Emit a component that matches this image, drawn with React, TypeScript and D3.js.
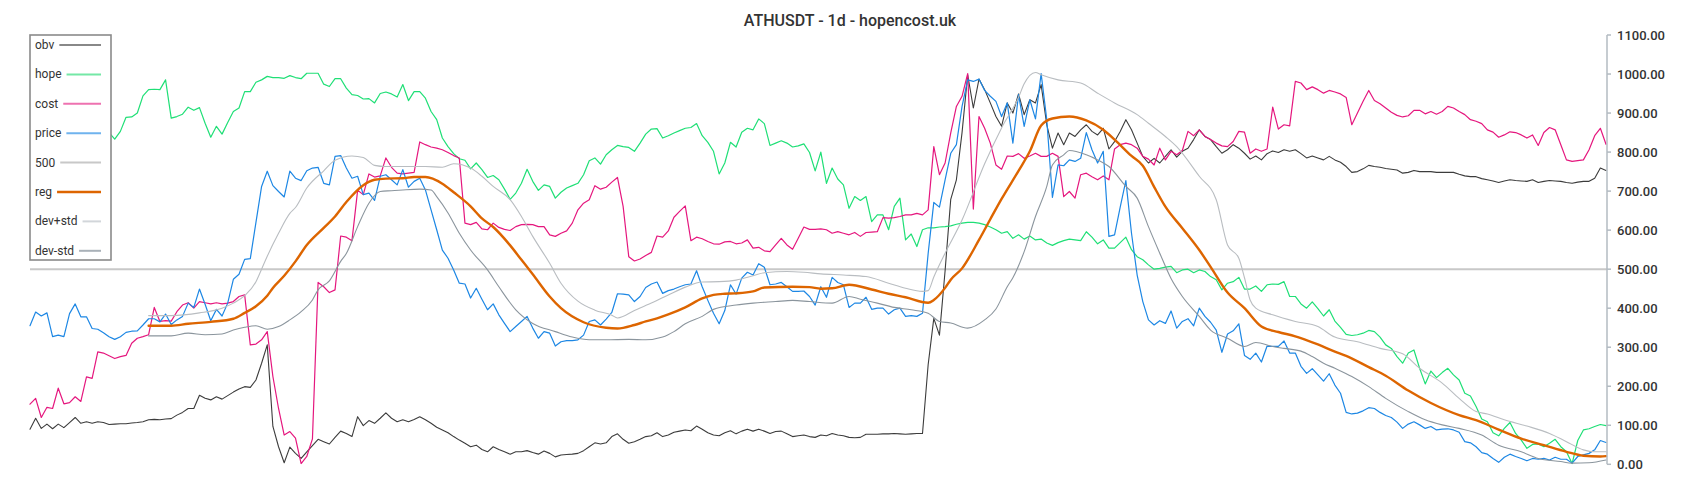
import React, { useEffect, useRef } from "react";
import * as d3 from "d3";

// ---------- data (one value per day, index 0..279) ----------
const price = [
  355, 390, 380, 388, 327, 331, 327, 386, 411, 378,
  378, 348, 346, 337, 327, 320, 327, 338, 341, 342,
  357, 373, 373, 365, 385, 358, 370, 379, 413, 402,
  449, 410, 368, 397, 380, 413, 474, 487, 525, 527,
  620, 712, 751, 714, 699, 685, 751, 733, 727, 752,
  759, 761, 720, 716, 789, 791, 759, 733, 738, 691,
  695, 676, 738, 742, 729, 716, 755, 710, 725, 733,
  703, 652, 601, 549, 528, 498, 464, 462, 426, 451,
  423, 396, 411, 383, 361, 340, 353, 366, 379, 349,
  323, 340, 336, 303, 314, 317, 317, 319, 331, 366,
  370, 357, 372, 389, 437, 436, 434, 417, 430, 453,
  462, 467, 438, 445, 449, 455, 460, 462, 496, 455,
  420, 387, 360, 394, 460, 436, 477, 492, 485, 514,
  505, 460, 462, 466, 455, 443, 443, 444, 430, 408,
  455, 428, 479, 466, 460, 402, 413, 413, 428, 397,
  400, 400, 385, 396, 400, 379, 381, 379, 387, 540,
  671, 659, 729, 797, 819, 917, 985, 981, 987, 958,
  943, 930, 891, 926, 823, 947, 866, 934, 885, 1001,
  883, 684, 767, 765, 780, 776, 784, 850, 806, 772,
  802, 584, 588, 659, 727, 592, 485, 417, 370, 357,
  368, 361, 393, 349, 366, 373, 355, 400, 379, 364,
  344, 287, 334, 342, 360, 279, 269, 285, 262, 303,
  302, 302, 316, 285, 285, 251, 233, 245, 229, 213,
  232, 203, 182, 133, 129, 131, 137, 145, 143, 133,
  125, 120, 108, 92, 103, 109, 101, 92, 97, 88,
  90, 91, 88, 82, 58, 55, 45, 30, 26, 15,
  5, 18, 26, 20, 15, 9, 15, 13, 15, 11,
  18, 13, 13, 3, 20, 24, 28, 37, 61, 56,
];

const obv = [
  90, 118, 92, 103, 91, 103, 94, 107, 120, 105,
  109, 105, 109, 107, 102, 103, 104, 104, 106, 107,
  109, 114, 115, 114, 116, 117, 126, 133, 143, 143,
  177, 169, 165, 173, 167, 176, 185, 193, 199, 197,
  216, 259, 306, 97, 45, 4, 44, 28, 15, 32,
  48, 64, 58, 52, 69, 85, 79, 71, 122, 99,
  112, 105, 118, 132, 118, 109, 114, 109, 115, 122,
  114, 105, 95, 88, 81, 71, 62, 54, 45, 49,
  38, 32, 45, 38, 32, 26, 32, 32, 35, 30,
  26, 34, 28, 19, 24, 25, 26, 28, 35, 45,
  55, 52, 55, 71, 78, 64, 54, 58, 64, 71,
  73, 81, 71, 75, 82, 85, 88, 86, 98, 90,
  81, 75, 73, 81, 86, 78, 85, 90, 85, 90,
  85, 79, 84, 85, 78, 71, 73, 75, 71, 69,
  75, 73, 79, 75, 73, 69, 68, 69, 77, 77,
  77, 78, 78, 79, 78, 77, 78, 79, 79, 255,
  374, 331, 496, 679, 729, 850, 998, 913, 987, 960,
  926, 891, 866, 926, 900, 949, 896, 934, 926, 973,
  870, 810, 849, 819, 849, 840, 857, 870, 853, 844,
  861, 808, 827, 853, 883, 857, 823, 789, 772, 784,
  772, 789, 806, 787, 802, 810, 832, 857, 840, 832,
  814, 797, 806, 819, 810, 797, 782, 790, 780, 796,
  803, 799, 806, 802, 806, 796, 785, 790, 785, 780,
  789, 780, 774, 763, 748, 750, 757, 766, 763, 761,
  758, 756, 754, 746, 748, 753, 750, 750, 750, 748,
  748, 748, 748, 743, 739, 737, 737, 732, 729, 726,
  722, 726, 729, 727, 726, 725, 729, 722, 725, 727,
  726, 725, 722, 720, 723, 725, 725, 733, 759, 753,
];

// first 14 days are hidden behind the legend box
const hope: (number | null)[] = [
  null, null, null, null, null, null, null, null, null, null,
  null, null, null, null, 850, 833, 853, 889, 890, 900,
  944, 960, 961, 960, 985, 887, 891, 897, 915, 907,
  914, 874, 838, 866, 846, 876, 904, 913, 955, 955,
  979, 985, 994, 991, 991, 989, 996, 991, 988, 1002,
  1002, 1002, 974, 968, 988, 988, 964, 947, 945, 936,
  937, 926, 950, 954, 949, 941, 973, 932, 955, 955,
  938, 904, 883, 836, 814, 796, 783, 779, 757, 772,
  755, 735, 740, 729, 705, 679, 695, 720, 756, 725,
  702, 716, 712, 682, 697, 708, 714, 720, 742, 778,
  785, 769, 793, 806, 817, 814, 812, 802, 823, 846,
  859, 860, 836, 842, 849, 855, 861, 863, 873, 842,
  825, 802, 744, 772, 825, 813, 851, 861, 857, 885,
  873, 817, 823, 829, 823, 813, 816, 821, 799, 752,
  800, 720, 759, 731, 716, 656, 686, 676, 686, 622,
  639, 639, 601, 661, 682, 575, 590, 558, 601, 606,
  606, 608, 609, 611, 615, 618, 620, 620, 618, 614,
  608, 601, 592, 596, 579, 588, 577, 585, 575, 577,
  567, 561, 568, 573, 577, 575, 573, 596, 582, 565,
  575, 554, 554, 568, 582, 550, 532, 524, 511, 500,
  502, 505, 507, 491, 498, 500, 491, 498, 494, 481,
  473, 447, 464, 468, 479, 449, 449, 457, 443, 460,
  462, 461, 468, 430, 430, 411, 400, 416, 399, 380,
  396, 367, 351, 333, 330, 332, 336, 343, 340, 326,
  306, 297, 276, 259, 285, 293, 246, 206, 239, 222,
  235, 246, 229, 216, 182, 175, 148, 116, 109, 81,
  73, 92, 107, 79, 62, 41, 51, 52, 45, 54,
  64, 45, 32, 2, 61, 88, 91, 97, 102, 99,
];

const cost = [
  154, 169, 120, 146, 143, 195, 155, 158, 173, 161,
  224, 220, 288, 285, 278, 271, 276, 279, 310, 323,
  327, 332, 402, 366, 368, 367, 391, 408, 414, 400,
  417, 414, 411, 414, 411, 413, 417, 430, 434, 306,
  308, 319, 340, 225, 143, 75, 84, 67, 2, 20,
  65, 466, 455, 440, 447, 585, 582, 573, 702, 691,
  744, 736, 739, 785, 761, 746, 744, 746, 748, 826,
  819, 813, 810, 806, 799, 791, 785, 618, 614, 620,
  603, 601, 618, 607, 602, 599, 609, 614, 615, 614,
  609, 609, 588, 584, 592, 598, 618, 652, 669, 678,
  714, 705, 710, 723, 735, 661, 532, 521, 526, 535,
  543, 585, 582, 598, 633, 648, 662, 573, 582, 578,
  571, 565, 564, 570, 571, 565, 567, 575, 554, 556,
  547, 545, 562, 579, 562, 551, 579, 608, 602, 602,
  603, 601, 592, 596, 592, 588, 594, 584, 594, 595,
  596, 632, 631, 632, 635, 639, 639, 643, 639, 652,
  814, 742, 772, 849, 917, 943, 1001, 654, 891, 861,
  823, 767, 756, 790, 789, 796, 784, 790, 797, 789,
  789, 797, 789, 686, 699, 682, 742, 746, 737, 729,
  739, 729, 808, 819, 823, 819, 810, 789, 782, 767,
  810, 780, 802, 793, 804, 853, 842, 857, 840, 832,
  823, 816, 814, 827, 853, 851, 797, 808, 802, 808,
  915, 859, 870, 867, 981, 977, 960, 967, 960, 951,
  958, 954, 949, 940, 870, 900, 930, 958, 932, 924,
  913, 902, 894, 890, 893, 907, 907, 898, 904, 897,
  904, 917, 913, 904, 896, 883, 879, 873, 857, 851,
  838, 844, 852, 850, 844, 836, 844, 817, 850, 863,
  857, 819, 780, 776, 778, 780, 806, 842, 861, 820,
];

// smooth series: [day index, value]
const reg: [number, number][] = [
  [21, 355], [25, 355], [28, 360], [32, 365], [36, 373], [38, 388], [40, 405], [42, 432],
  [43, 452], [45, 483], [47, 520], [49, 562], [52, 606], [54, 635], [56, 672], [59, 715],
  [61, 729], [63, 732], [66, 733], [68, 736], [70, 736], [73, 719], [75, 697], [78, 661],
  [80, 630], [82, 608], [85, 561], [87, 524], [89, 487], [92, 430], [94, 400], [98, 364],
  [102, 350], [104, 348], [107, 357], [109, 366], [111, 374], [113, 384], [116, 402],
  [119, 425], [121, 434], [123, 437], [125, 438], [128, 443], [130, 453], [135, 455],
  [138, 454], [140, 450], [142, 451], [145, 460], [149, 448], [152, 437], [155, 428],
  [159, 414], [160, 421], [162, 452], [163, 473], [165, 502], [168, 575], [170, 628],
  [172, 680], [175, 752], [177, 802], [179, 868], [181, 886], [184, 891], [187, 881],
  [190, 857], [192, 832], [195, 790], [197, 765], [199, 711], [201, 660], [204, 605],
  [207, 549], [209, 506], [212, 440], [215, 400], [218, 353], [221, 339], [224, 328],
  [228, 307], [231, 289], [233, 278], [237, 249], [240, 227], [244, 189], [248, 157],
  [253, 126], [256, 113], [260, 89], [264, 66], [268, 49], [272, 32], [275, 22], [278, 20],
  [279, 21],
];

const devPlus: [number, number][] = [
  [21, 381], [25, 381], [30, 388], [34, 400], [36, 413], [38, 432], [40, 468], [41, 500],
  [42, 533], [44, 592], [46, 643], [47, 658], [49, 708], [52, 752], [54, 779], [57, 790],
  [59, 786], [61, 766], [63, 763], [66, 763], [68, 763], [70, 763], [73, 761], [75, 770],
  [78, 759], [80, 738], [82, 712], [85, 678], [87, 635], [89, 584], [92, 515], [94, 464],
  [97, 418], [100, 395], [103, 382], [104, 375], [107, 394], [110, 413], [113, 434],
  [116, 454], [119, 467], [122, 468], [125, 472], [128, 483], [130, 491], [134, 494],
  [137, 492], [140, 488], [144, 485], [148, 481], [152, 464], [155, 451], [158, 443],
  [159, 445], [160, 480], [162, 541], [165, 626], [169, 770], [172, 862], [175, 940],
  [176, 975], [178, 1004], [179, 998], [182, 985], [186, 977], [189, 951], [192, 926],
  [196, 896], [198, 874], [201, 840], [203, 814], [207, 738], [210, 678], [212, 562],
  [214, 528], [215, 478], [216, 421], [217, 400], [220, 383], [224, 366], [228, 353],
  [231, 326], [235, 314], [239, 297], [243, 283], [246, 246], [250, 208], [253, 169],
  [256, 135], [258, 129], [261, 114], [265, 98], [269, 79], [272, 58], [275, 37],
  [277, 32], [279, 32],
];

const devMinus: [number, number][] = [
  [21, 329], [25, 329], [28, 336], [31, 332], [34, 334], [36, 344], [38, 351], [40, 355],
  [42, 346], [44, 353], [46, 370], [48, 391], [50, 421], [51, 447], [53, 470], [55, 520],
  [56, 540], [58, 609], [60, 669], [62, 699], [64, 701], [66, 703], [69, 705], [71, 703],
  [72, 686], [74, 644], [76, 592], [78, 549], [81, 498], [83, 455], [86, 396], [89, 361],
  [93, 340], [96, 326], [99, 319], [102, 319], [106, 320], [109, 319], [112, 326],
  [114, 340], [116, 360], [119, 379], [121, 397], [125, 408], [128, 413], [132, 417],
  [135, 420], [138, 417], [142, 413], [145, 430], [147, 423], [150, 413], [153, 402],
  [156, 396], [159, 387], [161, 366], [163, 362], [166, 349], [169, 370], [171, 398],
  [173, 455], [174, 478], [176, 545], [178, 635], [180, 712], [181, 767], [183, 793],
  [184, 804], [187, 793], [189, 780], [191, 763], [194, 712], [196, 682], [198, 609],
  [200, 541], [202, 476], [204, 430], [207, 379], [209, 344], [212, 323], [215, 302],
  [217, 312], [220, 302], [222, 297], [225, 290], [227, 276], [229, 259], [231, 246],
  [234, 225], [237, 199], [240, 169], [244, 135], [247, 114], [250, 101], [253, 92],
  [257, 75], [260, 49], [264, 32], [267, 15], [271, 7], [273, 3], [276, 4], [279, 11],
];

const level500 = 500;
const yTicks = [0, 100, 200, 300, 400, 500, 600, 700, 800, 900, 1000, 1100];
const legendLabels = ["obv", "hope", "cost", "price", "500", "reg", "dev+std", "dev-std"];
const title = "ATHUSDT - 1d - hopencost.uk";

const COLORS: Record<string, string> = {
  obv: "#3c3c3c",
  hope: "#1fdf76",
  cost: "#e5177e",
  price: "#1d87e4",
  "500": "#c8c8c8",
  reg: "#dd6500",
  "dev+std": "#b9bdc1",
  "dev-std": "#8b959d",
};
const LEGEND_COLORS: Record<string, string> = {
  obv: "#888888",
  hope: "#74e8a6",
  cost: "#ee72b0",
  price: "#6fb3ee",
  "500": "#c8c8c8",
  reg: "#dd6500",
  "dev+std": "#d2d6da",
  "dev-std": "#a9b1b8",
};

export default function App() {
  const ref = useRef<SVGSVGElement | null>(null);

  useEffect(() => {
    const svg = d3.select(ref.current);
    svg.selectAll("*").remove();
    const font = "Roboto, 'Noto Sans', sans-serif";
    const n = price.length;
    const x = d3.scaleLinear().domain([0, n - 1]).range([30, 1606]);
    const y = d3.scaleLinear().domain([0, 1100]).range([464.3, 35]);

    // 500 level line
    svg.append("line")
      .attr("x1", 30).attr("x2", 1607)
      .attr("y1", y(level500)).attr("y2", y(level500))
      .attr("stroke", COLORS["500"]).attr("stroke-width", 2);

    const lineIdx = d3.line<number | null>()
      .defined((d) => d !== null)
      .x((_, i) => x(i))
      .y((d) => y(d as number));

    const linePts = d3.line<[number, number]>()
      .x((d) => x(d[0]))
      .y((d) => y(d[1]))
      .curve(d3.curveMonotoneX);

    const draw = (path: string | null, color: string, w: number) =>
      svg.append("path").attr("d", path || "").attr("fill", "none")
        .attr("stroke", color).attr("stroke-width", w)
        .attr("stroke-linejoin", "round").attr("stroke-linecap", "round");

    draw(lineIdx(obv), COLORS.obv, 1.1);
    draw(lineIdx(hope), COLORS.hope, 1.2);
    draw(lineIdx(cost), COLORS.cost, 1.2);
    draw(lineIdx(price), COLORS.price, 1.2);
    draw(linePts(reg), COLORS.reg, 2.4);
    draw(linePts(devPlus), COLORS["dev+std"], 1.1);
    draw(linePts(devMinus), COLORS["dev-std"], 1.1);

    // right axis
    const ax = svg.append("g");
    ax.append("line").attr("x1", 1607).attr("x2", 1607)
      .attr("y1", y(1100)).attr("y2", y(0))
      .attr("stroke", "#b3bbc2").attr("stroke-width", 1.5);
    yTicks.forEach((t) => {
      ax.append("line").attr("x1", 1607).attr("x2", 1611)
        .attr("y1", y(t)).attr("y2", y(t))
        .attr("stroke", "#b3bbc2").attr("stroke-width", 1.5);
      ax.append("text").attr("x", 1617).attr("y", y(t))
        .attr("dominant-baseline", "central")
        .attr("font-family", font).attr("font-size", 13).attr("font-weight", 500)
        .attr("fill", "#333").text(d3.format(".2f")(t));
    });

    // title
    svg.append("text").attr("x", 850).attr("y", 20)
      .attr("text-anchor", "middle").attr("dominant-baseline", "central")
      .attr("font-family", font).attr("font-size", 16).attr("font-weight", 500)
      .attr("fill", "#333").text(title);

    // legend
    const lg = svg.append("g");
    lg.append("rect").attr("x", 30).attr("y", 35).attr("width", 81).attr("height", 225)
      .attr("fill", "#fff").attr("stroke", "#8a8a8a").attr("stroke-width", 1.6);
    legendLabels.forEach((lab, k) => {
      const ly = 45 + k * 29.4;
      const t = lg.append("text").attr("x", 35).attr("y", ly)
        .attr("dominant-baseline", "central")
        .attr("font-family", font).attr("font-size", 12)
        .attr("fill", "#333").text(lab);
      const node = t.node() as SVGTextElement;
      const tw = node ? node.getComputedTextLength() : 30;
      lg.append("line").attr("x1", 35 + tw + 5).attr("x2", 101)
        .attr("y1", ly).attr("y2", ly)
        .attr("stroke", LEGEND_COLORS[lab])
        .attr("stroke-width", lab === "reg" ? 2.4 : 2);
    });
  }, []);

  return (
    <>
      <style>{"body{margin:0;}"}</style>
      <svg ref={ref} width={1700} height={500} style={{ display: "block", background: "#fff" }} />
    </>
  );
}
